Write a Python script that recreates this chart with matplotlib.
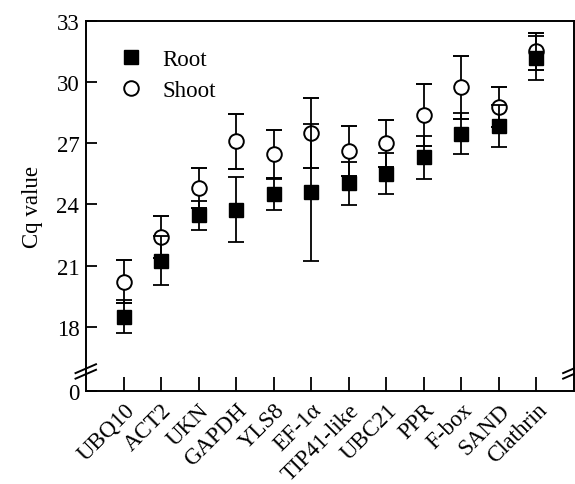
import matplotlib
matplotlib.use("Agg")
import matplotlib.pyplot as plt
from matplotlib.lines import Line2D
import numpy as np

plt.rcParams['font.family'] = ['Liberation Serif', 'DejaVu Serif']
plt.rcParams['mathtext.fontset'] = 'stix'

# data (mean Cq and SD)
genes = ["UBQ10", "ACT2", "UKN", "GAPDH", "YLS8", "EF-1α", "TIP41-like",
         "UBC21", "PPR", "F-box", "SAND", "Clathrin"]
root_mean = [18.5, 21.25, 23.46, 23.74, 24.49, 24.6, 25.04, 25.5, 26.32, 27.46, 27.84, 31.17]
root_sd = [0.8, 1.18, 0.69, 1.58, 0.74, 3.35, 1.06, 1.0, 1.05, 1.0, 1.03, 1.07]
shoot_mean = [20.22, 22.4, 24.8, 27.1, 26.48, 27.5, 26.61, 27.0, 28.36, 29.75, 28.77, 31.51]
shoot_sd = [1.06, 1.03, 0.98, 1.34, 1.19, 1.7, 1.21, 1.15, 1.52, 1.55, 0.98, 0.9]
ytick_vals = [18, 21, 24, 27, 30, 33]

ybottom = 14.86  # axis is broken: bottom stands for 0

fig = plt.figure(figsize=(5.75, 4.85), dpi=100)
ax = fig.add_axes([0.15, 0.192, 0.848, 0.763])

x = np.arange(len(genes))
ax.errorbar(x, shoot_mean, yerr=shoot_sd, fmt='o', color='black', ms=10.5,
            mfc='white', mec='black', mew=1.4, elinewidth=1.3, capsize=5.5,
            capthick=1.3, zorder=3)
ax.errorbar(x, root_mean, yerr=root_sd, fmt='s', color='black', ms=9.5,
            mfc='black', mec='black', elinewidth=1.3, capsize=5.5,
            capthick=1.3, zorder=4)

ax.set_xlim(-1, len(genes))
ax.set_ylim(ybottom, 33)
ax.set_yticks([ybottom] + ytick_vals)
ax.set_yticklabels(['0'] + [str(v) for v in ytick_vals])
ax.set_xticks(x)
ax.set_xticklabels(genes, rotation=45, ha='right', rotation_mode='anchor')

ax.tick_params(axis='y', direction='in', length=8, width=1.3, labelsize=16.5, pad=5)
ax.tick_params(axis='x', direction='in', length=10, width=1.3, labelsize=16.5, pad=6)
for s in ax.spines.values():
    s.set_linewidth(1.4)

ax.set_ylabel("Cq value", fontsize=16.5, labelpad=10)

# break marks
bk = dict(color='black', lw=1.4, clip_on=False, transform=ax.transAxes, zorder=5)
for xb in (0, 1):
    for yb in (0.045, 0.06):
        ax.plot([xb - 0.022, xb + 0.02], [yb - 0.012, yb + 0.012], **bk)

handles = [Line2D([], [], ls='none', marker='s', ms=9.5, color='black'),
           Line2D([], [], ls='none', marker='o', ms=10.5, mfc='white', mec='black', mew=1.4)]
ax.legend(handles, ["Root", "Shoot"], loc='upper left', bbox_to_anchor=(0.069, 0.924),
          frameon=False, fontsize=16.5, handlelength=1.0, handletextpad=0.85,
          labelspacing=0.45, borderaxespad=0, borderpad=0)

fig.savefig("out.png", dpi=100)
